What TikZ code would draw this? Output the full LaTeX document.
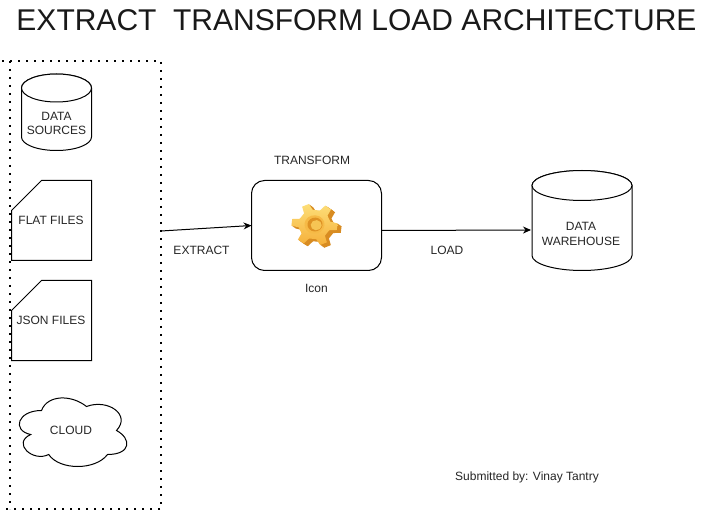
\documentclass[tikz,border=0pt]{standalone}
\usepackage{fontspec}
\setmainfont{Liberation Sans}
\usetikzlibrary{arrows.meta,calc}
\tikzset{
 lbl/.style={inner sep=0pt,outer sep=0pt,font=\fontsize{12}{14.5}\selectfont,align=center,text=black!85},
 ink/.style={draw=black,line width=1pt,fill=white},
 hold/.style={inner sep=0pt,outer sep=0pt,font=\fontsize{12}{14.5}\selectfont,align=center,text=black!85},
 conn/.style={draw=black,line width=1pt,-{Stealth[length=8pt,width=7pt]}},
 dots/.style={draw=black,line width=1.7pt,dash pattern=on 1.7pt off 6.3pt}
}
\newcommand{\gearpath}[3]{% start angle, outer, inner
 ({#1}:#2) \foreach \k in {0,60,...,300}{
   -- ({#1+\k+18}:#2) -- ({#1+\k+26}:#3) -- ({#1+\k+52}:#3) -- ({#1+\k+60}:#2)
 } -- cycle}
\begin{document}
\begin{tikzpicture}[x=1pt,y=-1pt]
\useasboundingbox (0,0) rectangle (702,513);
\fill[white] (0,0) rectangle (702,513);
% title
\node[inner sep=0pt,font=\fontsize{30}{36}\selectfont,text=black!90] (title) at (356.5,20.5) {EXTRACT\ \ TRANSFORM LOAD ARCHITECTURE};
% dotted group
\draw[dots] (2,61) -- (161,61) -- (161,509) -- (2,509);
\draw[dots] (10,61) -- (10,509);
\node[inner sep=0pt,outer sep=0pt,minimum width=151pt,minimum height=448pt] (group) at (85.5,285) {};
% data sources cylinder
\draw[ink] (21.5,88) arc[x radius=35,y radius=14,start angle=180,end angle=360] -- (91.5,137) arc[x radius=35,y radius=13.5,start angle=0,end angle=180] -- cycle;
\draw[ink] (56.5,88) ellipse[x radius=35,y radius=14];
\node[hold] (sources) at (56.5,123.5) {DATA\\SOURCES};
% flat files
\draw[ink] (41.5,180.5) -- (91.5,180.5) -- (91.5,260.5) -- (11.5,260.5) -- (11.5,210.5) -- cycle;
\node[hold] (flat) at (51,220) {FLAT FILES};
% json files
\draw[ink] (41.5,280.5) -- (91.5,280.5) -- (91.5,360.5) -- (11.5,360.5) -- (11.5,310.5) -- cycle;
\node[hold] (json) at (51,320) {JSON FILES};
% cloud
\begin{scope}[shift={(11.5,390.5)},x=120pt,y=-80pt]
\draw[ink] (.25,.25) .. controls (.05,.25) and (0,.5) .. (.16,.55)
 .. controls (0,.66) and (.18,.9) .. (.31,.8)
 .. controls (.4,1) and (.7,1) .. (.8,.8)
 .. controls (1,.8) and (1,.6) .. (.875,.5)
 .. controls (1,.3) and (.8,.1) .. (.625,.2)
 .. controls (.5,.05) and (.3,.05) .. (.25,.25) -- cycle;
\end{scope}
\node[hold] (cloud) at (71,430) {CLOUD};
% transform box
\node[draw=black,line width=1pt,rounded corners=13pt,fill=white,minimum width=130pt,minimum height=90pt,inner sep=0pt,outer sep=0pt] (trans) at (316.5,225.5) {};
\node[lbl] (translabel) at (312,160) {TRANSFORM};
\node[lbl] (icon) at (316.5,288) {Icon};
% gear
\foreach \d in {4,3,2,1}{
\begin{scope}[shift={(314.5+\d,224.5+0.7*\d)},cm={1,-0.08,0.1,0.92,(0,0)}]
 \fill[color={rgb,255:red,216;green,140;blue,34}] \gearpath{-8}{23}{16};
\end{scope}}
\begin{scope}[shift={(314.5,224.5)},cm={1,-0.08,0.1,0.92,(0,0)}]
 \shade[top color={rgb,255:red,253;green,222;blue,120},bottom color={rgb,255:red,245;green,176;blue,58}] \gearpath{-8}{23}{16};
 \fill[color={rgb,255:red,246;green,186;blue,70}] (0,0) circle[radius=10];
 \fill[color={rgb,255:red,222;green,146;blue,36}] (0.5,0) circle[radius=7.5];
 \fill[color={rgb,255:red,246;green,196;blue,84}] (1.8,0.6) circle[radius=5.5];
\end{scope}
% warehouse
\draw[ink] (532,185.5) arc[x radius=50,y radius=15,start angle=180,end angle=360] -- (632,255.5) arc[x radius=50,y radius=15,start angle=0,end angle=180] -- cycle;
\draw[ink] (582,185.5) ellipse[x radius=50,y radius=15];
\node[hold,minimum width=100pt,minimum height=100pt] (warehouse) at (582,220.5) {};
\node[lbl] (whlabel) at (581,234) {DATA\\WAREHOUSE};
% connectors
\coordinate (exstart) at ($(group.east)+(0,-54)$);
\coordinate (loadstart) at ($(trans.east)+(0,5)$);
\coordinate (loadend) at ($(warehouse.west)+(-1,9.5)$);
\draw[conn] (exstart) -- (trans.west);
\draw[conn] (loadstart) -- (loadend);
\node[lbl] (extract) at (201.5,250) {EXTRACT};
\node[lbl] (load) at (447,250) {LOAD};
\node[lbl] (sub) at (527,477.5) {Submitted by: Vinay Tantry};
\end{tikzpicture}
\end{document}
